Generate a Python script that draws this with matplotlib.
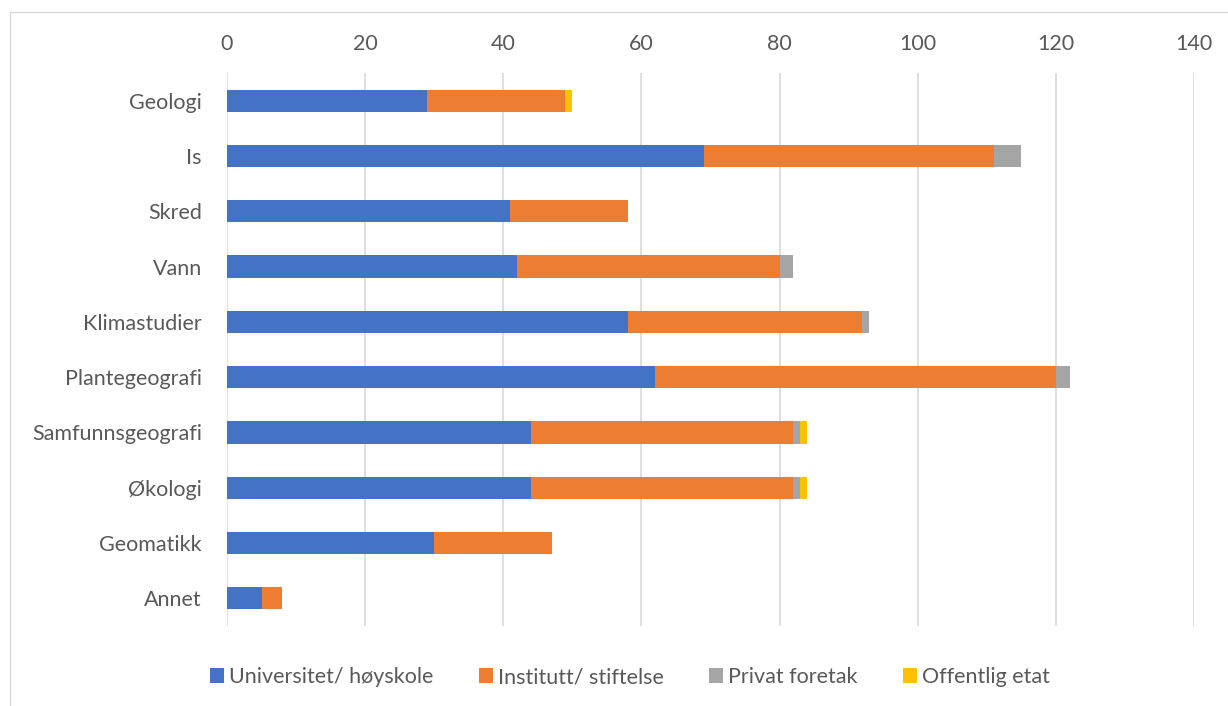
import matplotlib.pyplot as plt
from matplotlib.patches import Rectangle

# Data
categories = ['Geologi', 'Is', 'Skred', 'Vann', 'Klimastudier', 'Plantegeografi',
              'Samfunnsgeografi', 'Økologi', 'Geomatikk', 'Annet']
universitet = [29, 69, 41, 42, 58, 62, 44, 44, 30, 5]
institutt = [20, 42, 17, 38, 34, 58, 38, 38, 17, 3]
privat = [0, 4, 0, 2, 1, 2, 1, 1, 0, 0]
offentlig = [1, 0, 0, 0, 0, 0, 1, 1, 0, 0]
series_names = ['Universitet/ høyskole', 'Institutt/ stiftelse', 'Privat foretak', 'Offentlig etat']
colors = ['#4472C4', '#ED7D31', '#A5A5A5', '#FFC000']
xticks = [0, 20, 40, 60, 80, 100, 120, 140]

plt.rcParams['font.family'] = ['Lato', 'DejaVu Sans']
txt = '#595959'

fig = plt.figure(figsize=(12.28, 7.06), dpi=100)
# outer chart border (only top and left edges are inside the picture)
fig.patches.append(Rectangle((10/1228, -0.2), 1.2, 1.2 - 12/706, transform=fig.transFigure,
                             fill=False, edgecolor='#D9D9D9', linewidth=1))
ax = fig.add_axes([227/1228, 1 - 626/706, (1194-227)/1228, (626-73)/706])

y = list(range(len(categories)))
left = [0]*len(categories)
for vals, name, c in zip([universitet, institutt, privat, offentlig], series_names, colors):
    ax.barh(y, vals, left=left, height=0.4, color=c, label=name, zorder=3)
    left = [l + v for l, v in zip(left, vals)]

ax.set_ylim(len(categories) - 0.5, -0.5)
ax.set_xlim(0, 140)
ax.set_xticks(xticks)
ax.xaxis.tick_top()
ax.set_yticks(y)
ax.set_yticklabels(categories)
ax.tick_params(axis='both', length=0, labelsize=15.5, colors=txt)
ax.tick_params(axis='x', pad=14)
ax.tick_params(axis='y', pad=18)
ax.grid(axis='x', color='#D9D9D9', linewidth=1.2, zorder=0)
for s in ax.spines.values():
    s.set_visible(False)

fig.legend(loc='center', bbox_to_anchor=(630/1228, 1 - 677/706), ncol=4, frameon=False,
           fontsize=15.5, labelcolor=txt, handlelength=0.65, handleheight=0.65,
           handletextpad=0.25, columnspacing=2.1)

fig.savefig('out.png', dpi=100, facecolor='white')
